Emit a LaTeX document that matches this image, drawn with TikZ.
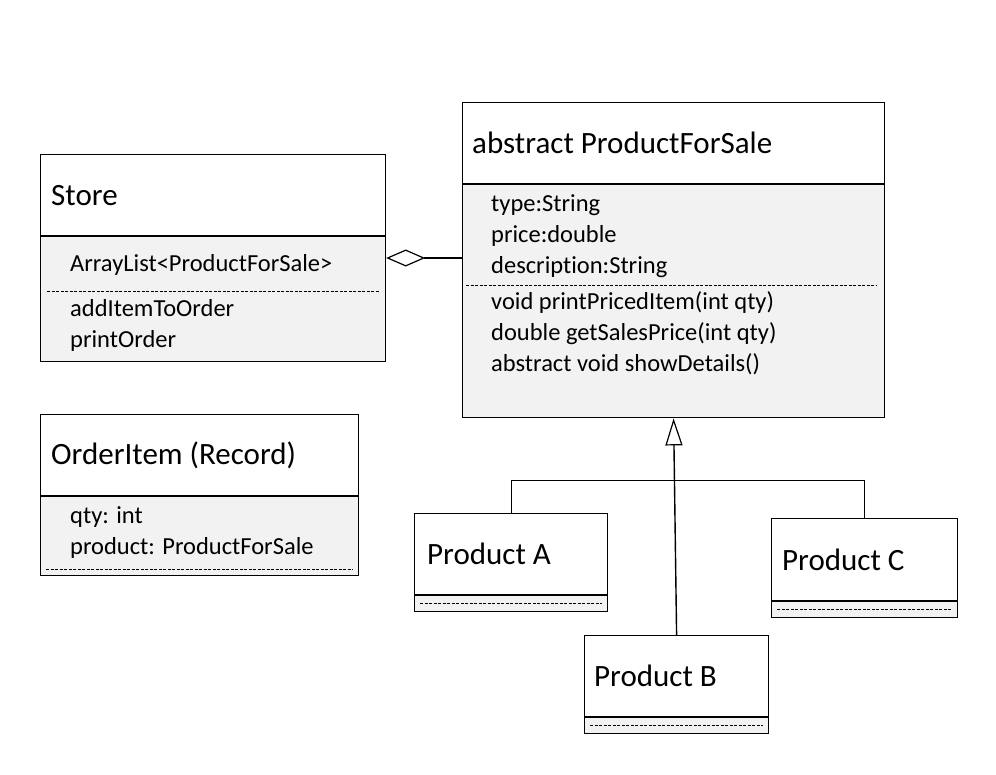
\documentclass[tikz,border=0pt]{standalone}
\usepackage{fontspec}
\setmainfont{Carlito}[Ligatures=NoCommon]
\usetikzlibrary{positioning,arrows.meta}
\definecolor{bodygray}{HTML}{F2F2F2}
\tikzset{
  classhead/.style={draw, line width=1.2pt, fill=white, anchor=north west, inner sep=0pt},
  classbody/.style={draw, line width=1.2pt, fill=bodygray, anchor=north west, inner sep=0pt},
  headtext/.style={anchor=west, inner sep=0pt, font=\fontsize{31}{33}\selectfont},
  bodytext/.style={anchor=west, inner sep=0pt, align=left, font=\fontsize{24.5}{30.8}\selectfont},
  sepline/.style={dash pattern=on 3pt off 1.5pt, line width=1pt},
  aggr/.style={-{Diamond[open, length=39pt, width=17pt, line width=1.2pt]}, line width=1.2pt},
  inherit/.style={-{Triangle[open, length=27pt, width=17pt, line width=1.2pt]}, line width=1.4pt}
}

\begin{document}
\begin{tikzpicture}[x=1pt, y=-1pt]
\fill[white] (0,0) rectangle (996,774);
\useasboundingbox (0,0) rectangle (996,774);

% Store
\node[classhead, minimum width=345pt, minimum height=81pt] (store-head) at (40,154) {};
\node[classbody, minimum width=345pt, minimum height=125pt] (store-body) at (store-head.south west) {};
\node[headtext] (store-title) at ([xshift=11pt]store-head.west) {Store};
\node[bodytext] (store-attr) at ([xshift=30pt, yshift=-29pt]store-body.north west) {ArrayList<ProductForSale>};
\node[bodytext] (store-ops) at ([xshift=30pt, yshift=-89pt]store-body.north west) {addItemToOrder\\printOrder};
\draw[sepline] ([xshift=7pt, yshift=-55pt]store-body.north west) -- ([xshift=-7pt, yshift=-55pt]store-body.north east);

% OrderItem
\node[classhead, minimum width=318pt, minimum height=81pt] (item-head) at (40,414) {};
\node[classbody, minimum width=318pt, minimum height=79pt] (item-body) at (item-head.south west) {};
\node[headtext] (item-title) at ([xshift=11pt]item-head.west) {OrderItem (Record)};
\node[bodytext] (item-attr) at ([xshift=30pt, yshift=-36.5pt]item-body.north west) {qty: int\\product: ProductForSale};
\draw[sepline] ([xshift=6pt, yshift=-73pt]item-body.north west) -- ([xshift=-6pt, yshift=-73pt]item-body.north east);

% ProductForSale
\node[classhead, minimum width=422pt, minimum height=81pt] (pfs-head) at (462,102) {};
\node[classbody, minimum width=422pt, minimum height=233pt] (pfs-body) at (pfs-head.south west) {};
\node[headtext] (pfs-title) at ([xshift=10pt]pfs-head.west) {abstract ProductForSale};
\node[bodytext] (pfs-attr) at ([xshift=29pt, yshift=-52pt]pfs-body.north west) {type:String\\price:double\\description:String};
\node[bodytext] (pfs-ops) at ([xshift=29pt, yshift=-149pt]pfs-body.north west) {void printPricedItem(int qty)\\double getSalesPrice(int qty)\\abstract void showDetails()};
\draw[sepline] ([xshift=4pt, yshift=-101pt]pfs-body.north west) -- ([xshift=-8pt, yshift=-101pt]pfs-body.north east);

% products
\node[classhead, minimum width=193pt, minimum height=81pt] (proda-head) at (414,513) {};
\node[classbody, minimum width=193pt, minimum height=16pt] (proda-body) at (proda-head.south west) {};
\node[headtext] (proda-title) at ([xshift=13pt]proda-head.west) {Product A};
\draw[sepline] ([xshift=6pt]proda-body.west) -- ([xshift=-6pt]proda-body.east);

\node[classhead, minimum width=184pt, minimum height=81pt] (prodb-head) at (584,635) {};
\node[classbody, minimum width=184pt, minimum height=16pt] (prodb-body) at (prodb-head.south west) {};
\node[headtext] (prodb-title) at ([xshift=10pt]prodb-head.west) {Product B};
\draw[sepline] ([xshift=6pt]prodb-body.west) -- ([xshift=-6pt]prodb-body.east);

\node[classhead, minimum width=186pt, minimum height=82pt] (prodc-head) at (771,518) {};
\node[classbody, minimum width=186pt, minimum height=16pt] (prodc-body) at (prodc-head.south west) {};
\node[headtext] (prodc-title) at ([xshift=11pt]prodc-head.west) {Product C};
\draw[sepline] ([xshift=6pt]prodc-body.west) -- ([xshift=-6pt]prodc-body.east);

% connectors
\coordinate (agg) at (0,258);
\draw[aggr] (agg -| pfs-body.west) -- (agg -| store-body.east);
\coordinate (junction) at ([yshift=-62pt]pfs-body.south);
\draw[inherit] (prodb-head.north) -- (pfs-body.south);
\draw[line width=1.2pt] (proda-head.north) |- (junction) -| (prodc-head.north);
\end{tikzpicture}
\end{document}
